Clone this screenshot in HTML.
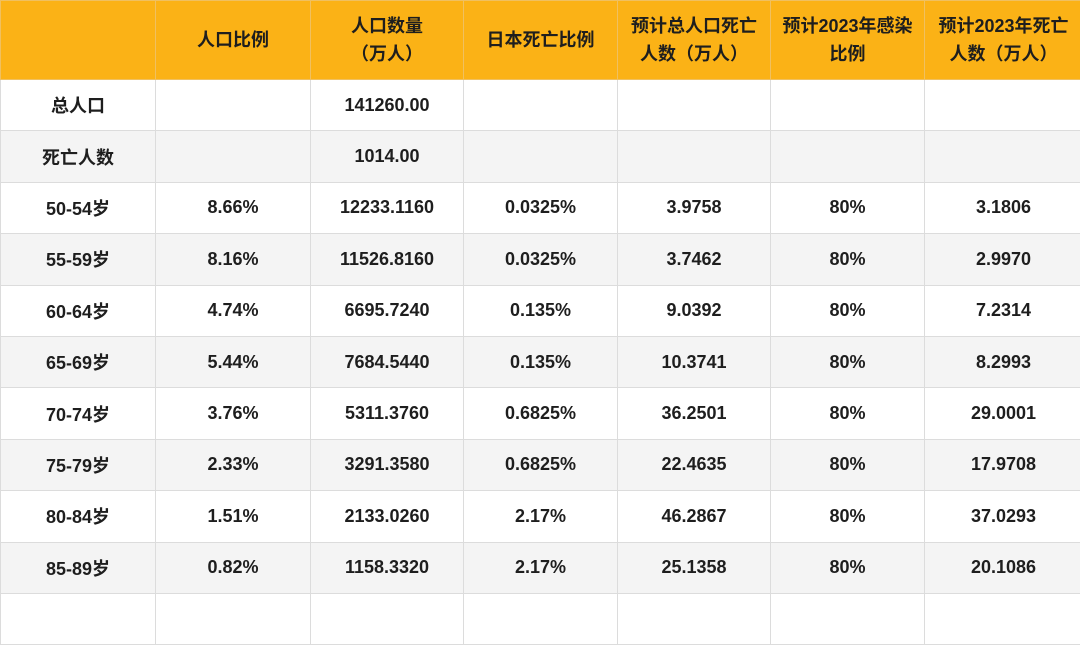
<!DOCTYPE html>
<html><head><meta charset="utf-8">
<style>
html,body{margin:0;padding:0;width:1080px;height:608px;overflow:hidden;background:#fff;}
table{position:absolute;left:0;top:0;border-collapse:collapse;table-layout:fixed;width:1082px;
font-family:"Liberation Sans","Noto Sans CJK SC",sans-serif;font-weight:bold;color:#1e1e1e;font-size:18px;}
td,th{border:1px solid #dcdcdc;text-align:center;padding:0;overflow:hidden;white-space:nowrap;}
thead th{background:#fbb216;height:78px;border-color:#f0c060;line-height:28px;font-size:18px;color:#1e1e1e;}
tbody td{height:50.4px;}
tbody tr:nth-child(even) td{background:#f4f4f4;}
</style></head><body>
<table>
<colgroup><col style="width:155px"><col style="width:155px"><col style="width:153px"><col style="width:154px"><col style="width:153px"><col style="width:154px"><col style="width:158px"></colgroup>
<thead><tr>
<th></th>
<th>人口比例</th>
<th>人口数量<br>（万人）</th>
<th>日本死亡比例</th>
<th>预计总人口死亡<br>人数（万人）</th>
<th>预计2023年感染<br>比例</th>
<th>预计2023年死亡<br>人数（万人）</th>
</tr></thead>
<tbody id="tb"></tbody>
</table>
<script>
const labels=["总人口","死亡人数","50-54岁","55-59岁","60-64岁","65-69岁","70-74岁","75-79岁","80-84岁","85-89岁",""];
const popRatio=["","","8.66%","8.16%","4.74%","5.44%","3.76%","2.33%","1.51%","0.82%",""];
const pop=["141260.00","1014.00","12233.1160","11526.8160","6695.7240","7684.5440","5311.3760","3291.3580","2133.0260","1158.3320",""];
const jpRatio=["","","0.0325%","0.0325%","0.135%","0.135%","0.6825%","0.6825%","2.17%","2.17%",""];
const deaths=["","","3.9758","3.7462","9.0392","10.3741","36.2501","22.4635","46.2867","25.1358",""];
const infect=["","","80%","80%","80%","80%","80%","80%","80%","80%",""];
const deaths23=["","","3.1806","2.9970","7.2314","8.2993","29.0001","17.9708","37.0293","20.1086",""];
const tb=document.getElementById('tb');
const names=["age","population-ratio","population","japan-death-ratio","expected-deaths","infection-ratio","2023-deaths"];
labels.forEach((l,i)=>{
  const tr=document.createElement('tr');
  
  
  [l,popRatio[i],pop[i],jpRatio[i],deaths[i],infect[i],deaths23[i]].forEach((v,j)=>{
    const td=document.createElement('td');
    
    
    td.textContent=v;
    tr.appendChild(td);
  });
  tb.appendChild(tr);
});
</script>
</body></html>
